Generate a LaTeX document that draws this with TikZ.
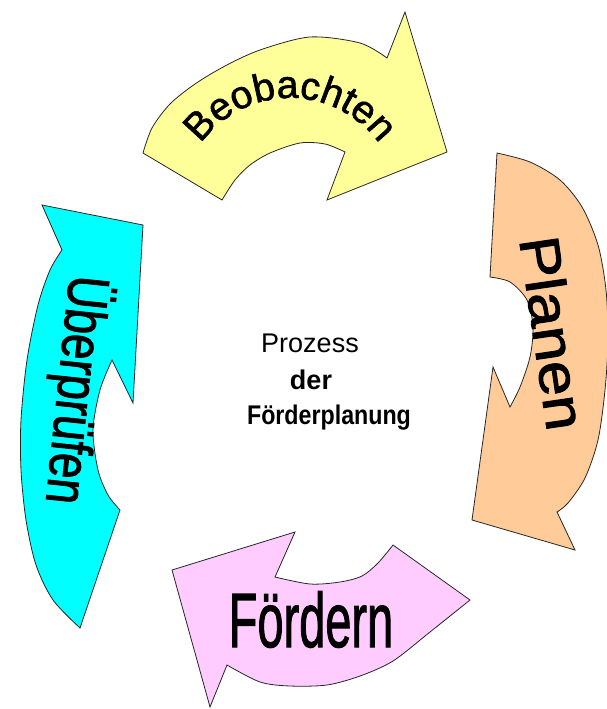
\documentclass[tikz,border=0pt]{standalone}
\usepackage{fontspec}
\setmainfont{Liberation Sans}
\newfontfamily\heavy[FakeBold=1.6]{Liberation Sans}
\usetikzlibrary{decorations.text}
\definecolor{cYellow}{HTML}{FFFF99}
\definecolor{cOrange}{HTML}{FFCC99}
\definecolor{cPink}{HTML}{FFCCFF}
\definecolor{cCyan}{HTML}{00FFFF}
\begin{document}
\begin{tikzpicture}[x=1pt,y=-1pt,
  arrowshape/.style={draw=black!85, line width=0.8pt, line join=miter},
  lbl/.style={inner sep=0pt, text=black}]
\useasboundingbox (0,0) rectangle (606,709);
% Beobachten (yellow)
\draw[arrowshape, fill=cYellow] plot[smooth] coordinates {(143,153) (152,128) (170,104) (195,84) (225,66) (260,50) (310,37) (360,43) (387,58)}
  -- (405,12) -- (447,152) -- (327,200) -- (345,152)
  -- plot[smooth] coordinates {(345,152) (325,144) (300,143) (270,153) (250,165) (235,180) (222,200)} -- cycle;
% Planen (orange)
\draw[arrowshape, fill=cOrange] plot[smooth] coordinates {(497,153) (530,162) (560,180) (582,207) (598,245) (606,290) (608,340) (605,390) (598,440) (585,478) (568,503) (557,512)}
  -- (575,550) -- (472,520) -- (493,367) -- (510,407)
  -- plot[smooth] coordinates {(510,407) (520,387) (530,357) (533,327) (527,300) (510,282) (490,277)} -- cycle;
% Foerdern (pink)
\draw[arrowshape, fill=cPink] (393,545) -- (470,600)
  -- plot[smooth] coordinates {(470,600) (430,632) (393,661) (360,676) (327,685) (290,686) (260,682) (227,665)}
  -- (210,707) -- (172,570) -- (295,532) -- (275,577)
  -- plot[smooth] coordinates {(275,577) (310,584) (340,582) (362,576) (378,563) (393,545)} -- cycle;
% Ueberpruefen (cyan)
\draw[arrowshape, fill=cCyan] plot[smooth] coordinates {(80,628) (53,600) (36,565) (26,520) (21,470) (21,420) (27,360) (38,305) (50,270) (62,250)}
  -- (42,205) -- (143,225) -- (133,403) -- (112,360)
  -- plot[smooth] coordinates {(112,360) (100,390) (93,430) (98,470) (108,495) (120,510)} -- cycle;
% labels
\path[decorate, decoration={text along path, text={|\heavy\fontsize{39}{39}\selectfont|Beobachten}, text align=center}]
  (290,208) ++(-155:110) arc[start angle=-155, end angle=-25, radius=110];
\node[lbl, rotate=-81.7, xscale=1.12, font=\heavy\fontsize{56}{56}\selectfont] (planen) at (553,333) {Planen};
\node[lbl, xscale=0.61, anchor=base, font=\heavy\fontsize{77}{77}\selectfont] (foerdern) at (311,647) {Fördern};
\node[lbl, rotate=-96, xscale=0.79, font=\heavy\fontsize{58}{58}\selectfont] (ueber) at (76,390) {Überprüfen};
\node[lbl, anchor=base, font=\fontsize{27}{27}\selectfont] (p1) at (310,352) {Prozess};
\node[lbl, anchor=base, font=\bfseries\fontsize{27}{27}\selectfont] (p2) at (311,389) {der};
\node[lbl, anchor=base, xscale=0.86, font=\bfseries\fontsize{27}{27}\selectfont] (p3) at (329,424) {Förderplanung};
\end{tikzpicture}
\end{document}
